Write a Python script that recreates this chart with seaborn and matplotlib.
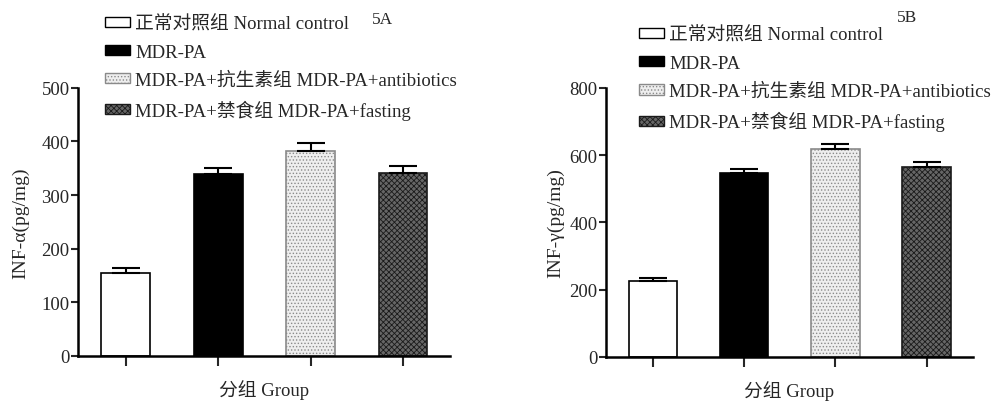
import numpy as np
import pandas as pd
import matplotlib
matplotlib.use('Agg')
import matplotlib.pyplot as plt
import matplotlib.patches as mpatches
import seaborn as sns

# Data
groups = ['正常对照组 Normal control', 'MDR-PA',
          'MDR-PA+抗生素组 MDR-PA+antibiotics', 'MDR-PA+禁食组 MDR-PA+fasting']
tnf_a = [154, 340, 382, 342]
tnf_a_err = [10, 11, 15, 12]
ifn_g = [225, 547, 618, 566]
ifn_g_err = [8, 12, 15, 12]

face = ['white', 'black', '#eeeeee', '#666666']
hatches = ['', '', '.....', 'xxxxxx']
hatch_edge = ['black', 'black', '#8a8a8a', '#1a1a1a']

sns.set_style('ticks')
plt.rcParams['font.family'] = ['Liberation Serif', 'Noto Sans CJK SC']
plt.rcParams['hatch.linewidth'] = 0.6

fig = plt.figure(figsize=(9.98, 4.02), dpi=100)
ax1 = fig.add_axes([0.078, 0.112, 0.373, 0.667])
ax2 = fig.add_axes([0.607, 0.110, 0.368, 0.669])


def draw(ax, vals, errs, ymax, ystep, ylabel, ypad, tag, tag_xy, leg_xy):
    df = pd.DataFrame({'group': groups, 'value': vals})
    sns.barplot(data=df, x='group', y='value', hue='group', palette=face,
                width=0.53, edgecolor='black', linewidth=1.2, legend=False,
                ax=ax)
    for i, p in enumerate(ax.patches[:4]):
        p.set_hatch(hatches[i])
        p.set_edgecolor(hatch_edge[i])
    ax.errorbar(range(len(vals)), vals, yerr=[np.zeros(len(errs)), errs],
                fmt='none', ecolor='black', elinewidth=1.5, capsize=10,
                capthick=1.5)
    ax.set_xlim(-0.52, 3.51)
    ax.set_ylim(0, ymax)
    ax.set_yticks(np.arange(0, ymax + 1, ystep))
    ax.set_xticks(range(4))
    ax.set_xticklabels([])
    ax.tick_params(axis='x', length=7, width=1.5, direction='out')
    ax.tick_params(axis='y', length=5, width=1.5, labelsize=13.5, pad=1)
    for s in ['top', 'right']:
        ax.spines[s].set_visible(False)
    for s in ['left', 'bottom']:
        ax.spines[s].set_linewidth(1.8)
        ax.spines[s].set_color('black')
    ax.set_xlabel('分组 Group', fontsize=13.5, labelpad=6)
    ax.set_ylabel(ylabel, fontsize=14, labelpad=ypad)

    handles = [mpatches.Patch(facecolor=face[i], edgecolor=hatch_edge[i]
                              if i > 1 else 'black', hatch=hatches[i],
                              linewidth=1.0) for i in range(4)]
    fig.legend(handles, groups, loc='upper left',
               bbox_to_anchor=leg_xy, frameon=False, fontsize=13.5,
               handlelength=1.3, handleheight=0.45, handletextpad=0.3,
               labelspacing=0.58, borderaxespad=0)
    fig.text(tag_xy[0], tag_xy[1], tag, fontsize=12.5, ha='left', va='top')


draw(ax1, tnf_a, tnf_a_err, 500, 100, 'INF-α(pg/mg)', 9, '5A',
     (0.373, 0.970), (0.098, 0.978))
draw(ax2, ifn_g, ifn_g_err, 800, 200, 'INF-γ(pg/mg)', 4, '5B',
     (0.899, 0.976), (0.633, 0.950))

fig.savefig('out.png', dpi=100)
